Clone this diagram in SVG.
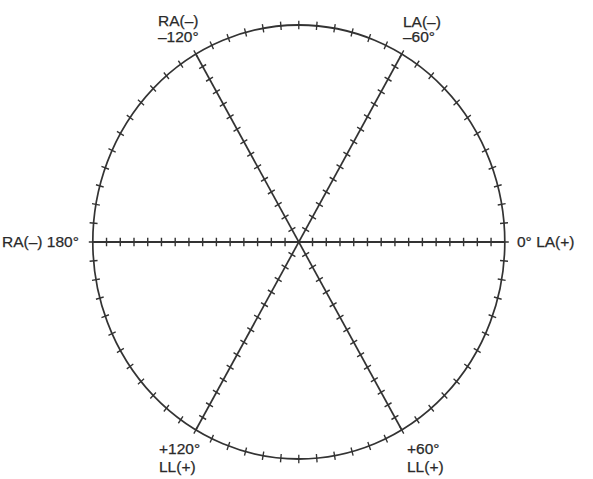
<svg xmlns="http://www.w3.org/2000/svg" width="593" height="479" viewBox="0 0 593 479">
  <style>
    .axis { fill: none; stroke: #333333; stroke-width: 1.7; }
    .ticks { fill: none; stroke: #333333; stroke-width: 8; stroke-dasharray: 1.4 12.333; stroke-dashoffset: 7.566; }
    .cticks { fill: none; stroke: #333333; stroke-width: 8; stroke-dasharray: 0.075 0.925; stroke-dashoffset: 0.0375; }
    .lbl { font-family: "Liberation Sans", Arial, Helvetica, sans-serif; font-size: 15.5px; fill: #2a2a2a; stroke: #2a2a2a; stroke-width: 0.25; }
  </style>
  <rect width="593" height="479" fill="#ffffff"/>
  <g id="hexaxial" transform="translate(298.8 242) scale(1 1.0534)">
    <g id="circle">
      <circle class="axis" cx="0" cy="0" r="206"/>
      <circle class="cticks" cx="0" cy="0" r="206" pathLength="72"/>
    </g>
    <g id="connectors">
      <g id="axis-0-180">
        <line class="axis" x1="-206" y1="0" x2="206" y2="0"/>
        <path class="ticks" d="M-199.13 0 H-6.867 M6.867 0 H199.13"/>
      </g>
      <g id="axis-60" transform="rotate(60)">
        <line class="axis" x1="-206" y1="0" x2="206" y2="0"/>
        <path class="ticks" d="M-199.13 0 H-6.867 M6.867 0 H199.13"/>
      </g>
      <g id="axis-120" transform="rotate(-60)">
        <line class="axis" x1="-206" y1="0" x2="206" y2="0"/>
        <path class="ticks" d="M-199.13 0 H-6.867 M6.867 0 H199.13"/>
      </g>
    </g>
  </g>
  <g id="label-180">
    <text class="lbl" x="2" y="246.5">RA(–) 180°</text>
  </g>
  <g id="label-0">
    <text class="lbl" x="517" y="246.5">0° LA(+)</text>
  </g>
  <g id="label-m120">
    <text class="lbl" x="158" y="26">RA(–)</text>
    <text class="lbl" x="158" y="42">–120°</text>
  </g>
  <g id="label-m60">
    <text class="lbl" x="403" y="26.5">LA(–)</text>
    <text class="lbl" x="403" y="42">–60°</text>
  </g>
  <g id="label-p120">
    <text class="lbl" x="159" y="454">+120°</text>
    <text class="lbl" x="159" y="472">LL(+)</text>
  </g>
  <g id="label-p60">
    <text class="lbl" x="407" y="454">+60°</text>
    <text class="lbl" x="407" y="472">LL(+)</text>
  </g>
</svg>
